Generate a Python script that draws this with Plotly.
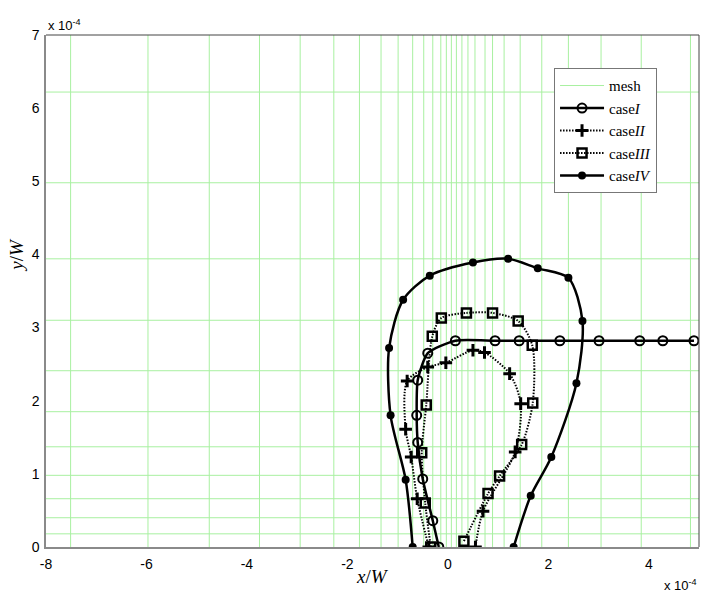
import plotly.graph_objects as go

# Positions in units of 1e-4 (x/W, y/W)
mesh_x = [-7.51, -5.97, -4.75, -3.75, -2.94, -2.27, -1.76, -1.33, -0.99, -0.70,
          -0.48, -0.30, -0.14, -0.03, 0.07, 0.17, 0.28, 0.40, 0.54, 0.74,
          0.89, 1.12, 1.44, 1.87, 2.40, 3.05, 3.85, 4.83]
mesh_y = [0.18, 0.40, 0.66, 0.98, 1.37, 1.85, 2.41, 3.10, 3.94, 4.98, 6.22]

case1_x = [-0.18, -0.30, -0.50, -0.60, -0.62, -0.60, -0.40, 0.15, 0.94, 1.42,
           2.23, 3.01, 3.82, 4.28, 4.90]
case1_y = [0.00, 0.36, 0.93, 1.43, 1.80, 2.28, 2.65, 2.82, 2.82, 2.82,
           2.82, 2.82, 2.82, 2.82, 2.82]

case2_x = [0.55, 0.70, 1.34, 1.45, 1.23, 0.73, 0.50, -0.04, -0.40, -0.81,
           -0.84, -0.73, -0.61, -0.38]
case2_y = [0.00, 0.49, 1.30, 1.96, 2.37, 2.66, 2.69, 2.52, 2.46, 2.27,
           1.61, 1.23, 0.66, 0.00]

case3_x = [0.32, 0.80, 1.03, 1.47, 1.69, 1.68, 1.40, 0.89, 0.37, -0.13,
           -0.31, -0.43, -0.52, -0.45, -0.34]
case3_y = [0.08, 0.73, 0.97, 1.40, 1.97, 2.76, 3.09, 3.20, 3.20, 3.13,
           2.88, 1.94, 1.29, 0.60, 0.00]

case4_x = [-0.70, -0.84, -1.14, -1.17, -0.89, -0.36, 0.50, 1.20, 1.79, 2.40,
           2.68, 2.56, 2.06, 1.65, 1.31]
case4_y = [0.00, 0.92, 1.80, 2.72, 3.38, 3.71, 3.89, 3.94, 3.81, 3.68,
           3.09, 2.24, 1.23, 0.70, 0.00]

x_range = [-8, 5]
y_range = [0, 7]
x_ticks = [-8, -6, -4, -2, 0, 2, 4]
y_ticks = [0, 1, 2, 3, 4, 5, 6, 7]

# mesh lines as one broken polyline
gx, gy = [], []
for v in mesh_x:
    gx += [v, v, None]
    gy += [y_range[0], y_range[1], None]
for v in mesh_y:
    gx += [x_range[0], x_range[1], None]
    gy += [v, v, None]

fig = go.Figure()
fig.add_trace(go.Scatter(x=gx, y=gy, mode="lines", name="mesh",
                         line=dict(color="#a8f0a0", width=1),
                         hoverinfo="skip"))

fig.add_trace(go.Scatter(
    x=case1_x, y=case1_y, mode="lines+markers", name="case<i>I</i>",
    line=dict(color="black", width=2.5, shape="spline", smoothing=0.6),
    marker=dict(symbol="circle-open", size=9, color="black",
                line=dict(width=2, color="black"))))

fig.add_trace(go.Scatter(
    x=case2_x, y=case2_y, mode="lines+markers", name="case<i>II</i>",
    line=dict(color="black", width=2, dash="1.5px,1.5px", shape="spline", smoothing=0.8),
    marker=dict(symbol="cross-thin", size=9, color="black",
                line=dict(width=3, color="black"))))

fig.add_trace(go.Scatter(
    x=case3_x, y=case3_y, mode="lines+markers", name="case<i>III</i>",
    line=dict(color="black", width=2, dash="1.5px,1.5px", shape="spline", smoothing=0.8),
    marker=dict(symbol="square-open", size=9, color="black",
                line=dict(width=2.5, color="black"))))

fig.add_trace(go.Scatter(
    x=case4_x, y=case4_y, mode="lines+markers", name="case<i>IV</i>",
    line=dict(color="black", width=2.5, shape="spline", smoothing=0.8),
    marker=dict(symbol="circle", size=8, color="black")))

axis_font = dict(family="Liberation Sans, Arial, sans-serif", size=14, color="black")

fig.update_layout(
    width=703, height=592,
    margin=dict(l=46, r=4, t=35, b=45),
    paper_bgcolor="white", plot_bgcolor="white",
    showlegend=True,
    legend=dict(x=0.778, y=0.935, xanchor="left", yanchor="top",
                bgcolor="white", bordercolor="#777777", borderwidth=1,
                font=dict(family="Liberation Serif, serif", size=15, color="black"),
                itemwidth=44, tracegroupgap=0),
    xaxis=dict(range=x_range, tickvals=x_ticks, ticktext=[str(v) for v in x_ticks],
               showgrid=False, zeroline=False, showline=True, linecolor="#8a8a8a",
               linewidth=1.5, ticks="", tickfont=axis_font, ticklabelstandoff=3),
    yaxis=dict(range=y_range, tickvals=y_ticks, ticktext=[str(v) for v in y_ticks],
               showgrid=False, zeroline=False, showline=True, linecolor="#8a8a8a",
               linewidth=1.5, ticks="", tickfont=axis_font, ticklabelstandoff=2),
    shapes=[
        dict(type="line", xref="paper", yref="paper", x0=0, x1=1, y0=1, y1=1,
             line=dict(color="#444444", width=1)),
        dict(type="line", xref="paper", yref="paper", x0=1, x1=1, y0=0, y1=1,
             line=dict(color="#444444", width=1)),
    ],
    annotations=[
        dict(text="<i>x</i>/<i>W</i>", xref="paper", yref="paper", x=0.5, y=-0.058,
             xanchor="center", yanchor="middle", showarrow=False,
             font=dict(family="Liberation Serif, serif", size=19, color="black")),
        dict(text="<i>y</i>/<i>W</i>", xref="paper", yref="paper", x=-0.045, y=0.57,
             xanchor="center", yanchor="middle", textangle=-90, showarrow=False,
             font=dict(family="Liberation Serif, serif", size=19, color="black")),
        dict(text="x 10<sup>-4</sup>", xref="paper", yref="paper", x=0.0, y=1.0,
             xanchor="left", yanchor="bottom", showarrow=False,
             font=dict(family="Liberation Sans, Arial, sans-serif", size=13, color="black")),
        dict(text="x 10<sup>-4</sup>", xref="paper", yref="paper", x=1.0, y=-0.055,
             xanchor="right", yanchor="top", showarrow=False,
             font=dict(family="Liberation Sans, Arial, sans-serif", size=13, color="black")),
    ],
)

fig.write_html("out.html")
